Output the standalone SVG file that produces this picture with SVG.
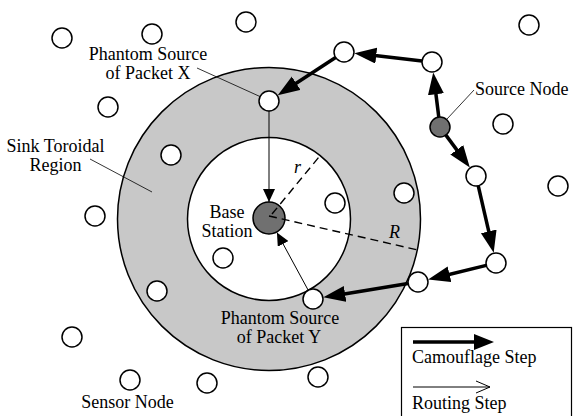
<svg xmlns="http://www.w3.org/2000/svg" width="575" height="416" viewBox="0 0 575 416">
  <style>
    text { font-family: "Liberation Serif", "Times New Roman", serif; font-size: 18px; fill: #000; }
    .mid { text-anchor: middle; }
    .it { font-style: italic; }
    .node { fill: #fff; stroke: #000; stroke-width: 1.5; }
    .dark { fill: #707070; stroke: #000; stroke-width: 1.5; }
    .camo { stroke: #000; stroke-width: 3.5; fill: none; marker-end: url(#camoHead); }
    .route { stroke: #000; stroke-width: 1; fill: none; marker-end: url(#routeHead); }
    .leader { stroke: #000; stroke-width: 0.8; fill: none; }
    .dash { stroke: #000; stroke-width: 1.4; stroke-dasharray: 8 5; fill: none; }
  </style>
  <defs>
    <marker id="camoHead" markerUnits="userSpaceOnUse" markerWidth="24" markerHeight="18" refX="10" refY="8" orient="auto">
      <path d="M0,0 L22,8 L0,16 z" fill="#000"/>
    </marker>
    <marker id="routeHead" markerUnits="userSpaceOnUse" markerWidth="14" markerHeight="12" refX="13" refY="6" orient="auto">
      <path d="M0,0 L13,6 L0,12 z" fill="#000"/>
    </marker>
  </defs>

  <rect width="575" height="416" fill="#fff"/>

  <!-- sink toroidal region -->
  <g id="toroidal-region">
    <circle cx="269" cy="219" r="151.5" fill="#c8c8c8" stroke="#000" stroke-width="1.5"/>
    <circle cx="269" cy="219" r="81.5" fill="#fff" stroke="#000" stroke-width="1.5"/>
  </g>

  <!-- connectors -->
  <g id="connectors">
    <!-- camouflage steps -->
    <line class="camo" x1="438.8" y1="117.1" x2="434.7" y2="84.3"/>
    <line class="camo" x1="422.1" y1="60.9" x2="366.3" y2="54.5"/>
    <line class="camo" x1="335.6" y1="57.5" x2="287.8" y2="88.7"/>
    <line class="camo" x1="445.9" y1="135.1" x2="462.7" y2="157.9"/>
    <line class="camo" x1="478.2" y1="185.7" x2="491.0" y2="241.1"/>
    <line class="camo" x1="486.3" y1="265.4" x2="439.8" y2="276.7"/>
    <line class="camo" x1="408.1" y1="283.6" x2="335.2" y2="295.4"/>
    <!-- routing steps -->
    <line class="route" x1="269" y1="111" x2="269" y2="202"/>
    <line class="route" x1="308.2" y1="290.2" x2="276.9" y2="232.5"/>
    <!-- leader lines -->
    <line class="leader" x1="197" y1="68" x2="261" y2="97"/>
    <line class="leader" x1="90" y1="159" x2="152" y2="192"/>
    <line class="leader" x1="474" y1="90" x2="447" y2="119"/>
  </g>

  <!-- sensor nodes -->
  <g id="sensor-nodes">
    <circle class="node" cx="62" cy="38" r="10"/>
    <circle class="node" cx="152" cy="34" r="10"/>
    <circle class="node" cx="246" cy="22" r="10"/>
    <circle class="node" cx="108" cy="107" r="10"/>
    <circle class="node" cx="171" cy="155" r="10"/>
    <circle class="node" cx="344" cy="52" r="10"/>
    <circle class="node" cx="432" cy="62" r="10"/>
    <circle class="node" cx="529" cy="25" r="10"/>
    <circle class="node" cx="503" cy="124" r="10"/>
    <circle class="node" cx="476" cy="176" r="10"/>
    <circle class="node" cx="558" cy="186" r="10"/>
    <circle class="node" cx="404" cy="193" r="10"/>
    <circle class="node" cx="335" cy="203" r="10"/>
    <circle class="node" cx="95" cy="216" r="10"/>
    <circle class="node" cx="223" cy="258" r="10"/>
    <circle class="node" cx="157" cy="291" r="10"/>
    <circle class="node" cx="72" cy="337" r="10"/>
    <circle class="node" cx="130" cy="380" r="10"/>
    <circle class="node" cx="207" cy="383" r="10"/>
    <circle class="node" cx="496" cy="263" r="10"/>
    <circle class="node" cx="418" cy="282" r="10"/>
    <circle class="node" cx="318" cy="377" r="10"/>
  </g>

  <g id="phantom-x"><circle class="node" cx="269" cy="101" r="10"/></g>
  <g id="phantom-y"><circle class="node" cx="313" cy="299" r="10"/></g>
  <g id="source-node"><circle class="dark" cx="440" cy="127" r="10"/></g>
  <g id="base-station"><circle class="dark" cx="269" cy="218" r="16"/></g>

  <!-- radii -->
  <g id="radii">
    <line class="dash" x1="272" y1="214" x2="320.2" y2="155.5"/>
    <line class="dash" x1="269" y1="216" x2="418" y2="250"/>
    <text class="it" x="294" y="173">r</text>
    <text class="it" x="389" y="238">R</text>
  </g>

  <!-- labels -->
  <g id="labels">
    <text class="mid" x="148" y="60">Phantom Source</text>
    <text class="mid" x="148" y="79">of Packet X</text>
    <text class="mid" x="55.5" y="152">Sink Toroidal</text>
    <text class="mid" x="55.5" y="171">Region</text>
    <text x="475" y="95">Source Node</text>
    <text class="mid" x="227" y="218">Base</text>
    <text class="mid" x="227" y="237">Station</text>
    <text class="mid" x="280" y="324">Phantom Source</text>
    <text class="mid" x="279" y="343">of Packet Y</text>
    <text class="mid" x="127.5" y="408">Sensor Node</text>
  </g>

  <!-- legend -->
  <g id="legend">
    <rect x="401.5" y="327.5" width="170" height="100" fill="#fff" stroke="#000" stroke-width="1.2"/>
    <line x1="413" y1="342" x2="476" y2="342" stroke="#000" stroke-width="3.5"/>
    <path d="M474,334 L494,342 L474,350 z" fill="#000"/>
    <text x="412" y="363">Camouflage Step</text>
    <line x1="413" y1="387" x2="490" y2="387" stroke="#000" stroke-width="1"/>
    <path d="M476,381 L490,387 L476,393" fill="none" stroke="#000" stroke-width="1"/>
    <text x="412" y="409">Routing Step</text>
  </g>
</svg>
